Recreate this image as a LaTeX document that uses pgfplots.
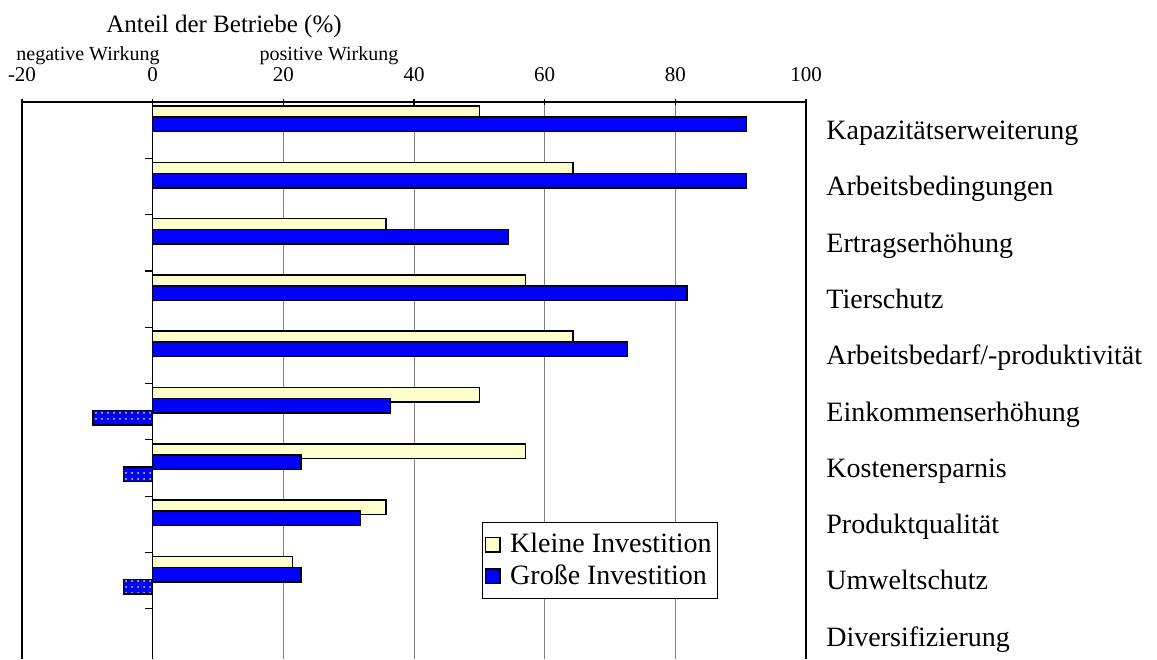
\documentclass[border=0pt]{standalone}
\usepackage{fontspec}
\setmainfont{Liberation Serif}
\usepackage{pgfplots}
\pgfplotsset{compat=1.18}
\usetikzlibrary{patterns}
\definecolor{smallfill}{HTML}{FFFFCC}
\definecolor{bigfill}{HTML}{0000FF}
\definecolor{gridgray}{HTML}{808080}
\begin{document}
\begin{tikzpicture}
\begin{axis}[
  at={(0,0)}, anchor=north west,
  width=392pt, height=278.5pt, scale only axis,
  xmin=-20, xmax=100, ymin=0, ymax=9.893, y dir=reverse,
  axis x line*=top, axis y line*=box,
  axis line style={black, line width=0.7pt},
  xtick={-20,0,20,40,60,80,100},
  xticklabels={-20,0,20,40,60,80,100},
  xticklabel style={font=\fontsize{10.5}{12}\selectfont, inner sep=0pt, anchor=base, yshift=8.7pt},
  major tick length=3pt, tick align=center,
  xtick style={black, line width=0.6pt},
  xmajorgrids, major grid style={gridgray, line width=0.5pt},
  ytick={0.5,1.5,2.5,3.5,4.5,5.5,6.5,7.5,8.5,9.5},
  yticklabels={Kapazitätserweiterung,Arbeitsbedingungen,Ertragserhöhung,Tierschutz,Arbeitsbedarf/-produktivität,Einkommenserhöhung,Kostenersparnis,Produktqualität,Umweltschutz,Diversifizierung},
  ytick style={draw=none},
  yticklabel pos=right,
  yticklabel style={anchor=base west, font=\fontsize{14}{16}\selectfont, inner sep=0pt, xshift=8.5pt, yshift=-4.7pt},
  legend style={at={(axis description cs:0.587,0.246)}, anchor=north west, draw=black, line width=0.5pt, fill=white, font=\fontsize{14}{16}\selectfont, inner xsep=1pt, inner ysep=3.5pt, row sep=0.5pt},
  legend cell align=left,
  legend image code/.code={\draw[#1] (0pt,-3.6pt) rectangle (7.2pt,3.6pt); \path (10pt,0pt);},
  clip=false,
]
\addplot[xbar, bar shift=0pt, bar width=0.258, fill=smallfill, draw=black, line width=0.75pt] coordinates {
  (50,0.2) (64.3,1.2) (35.7,2.2) (57.1,3.2) (64.3,4.2) (50,5.2) (57.1,6.2) (35.7,7.2) (21.4,8.2)
};
\addlegendentry{Kleine Investition}
\addplot[xbar, bar shift=0pt, bar width=0.258, fill=bigfill, draw=black, line width=0.75pt] coordinates {
  (90.9,0.395) (90.9,1.395) (54.5,2.395) (81.8,3.395) (72.7,4.395) (36.4,5.395) (22.7,6.395) (31.8,7.395) (22.7,8.395)
};
\addlegendentry{Große Investition}
\addplot[xbar, bar shift=0pt, bar width=0.258, fill=bigfill, draw=black, line width=0.75pt, postaction={pattern=dots, pattern color=yellow!85!gray}, forget plot] coordinates {
  (-9.1,5.61) (-4.5,6.61) (-4.5,8.61)
};
\draw[black, line width=0.6pt] (axis cs:0,0) -- (axis cs:0,9.893);
\pgfplotsinvokeforeach{0,1,2,3,4,5,6,7,8,9}{\draw[black, line width=0.6pt] (axis cs:0,#1) -- ++(-4pt,0pt);}
\end{axis}
\node[anchor=base, font=\fontsize{12.5}{14}\selectfont] at (101pt,34.5pt) {Anteil der Betriebe (\%)};
\node[anchor=base, font=\fontsize{10}{12}\selectfont] at (33pt,20.5pt) {negative Wirkung};
\node[anchor=base, font=\fontsize{10}{12}\selectfont] at (153.5pt,20.5pt) {positive Wirkung};
\pgfresetboundingbox
\path (-11pt,51pt) rectangle (567.5pt,-278.5pt);
\end{tikzpicture}
\end{document}
